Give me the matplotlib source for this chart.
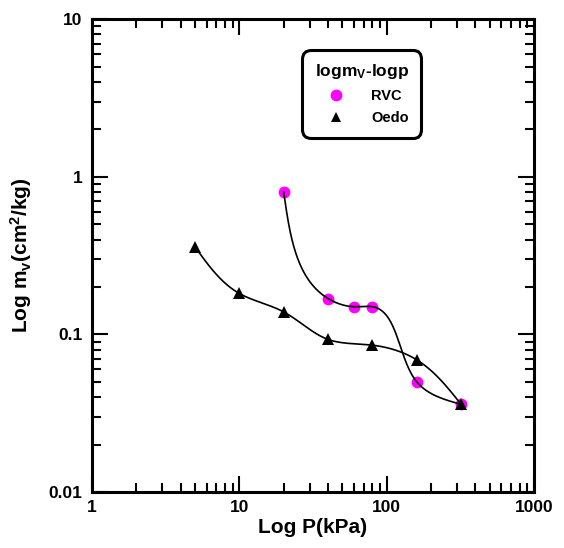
import numpy as np
import matplotlib
matplotlib.use('Agg')
import matplotlib.pyplot as plt
from matplotlib.lines import Line2D
from matplotlib.ticker import FixedLocator, LogLocator, NullFormatter

plt.rcParams['font.family'] = ['Liberation Sans', 'DejaVu Sans']
plt.rcParams['font.weight'] = 'bold'
plt.rcParams['mathtext.fontset'] = 'custom'
plt.rcParams['mathtext.rm'] = 'Liberation Sans:bold'
plt.rcParams['mathtext.it'] = 'Liberation Sans:bold'
plt.rcParams['mathtext.bf'] = 'Liberation Sans:bold'
plt.rcParams['mathtext.default'] = 'rm'

# datos
p_rvc = [20, 40, 60, 80, 160, 320]
mv_rvc = [0.80, 0.169, 0.150, 0.150, 0.050, 0.036]
p_oedo = [5, 10, 20, 40, 80, 160, 320]
mv_oedo = [0.36, 0.182, 0.139, 0.093, 0.0855, 0.069, 0.036]

x_ticks = [1, 10, 100, 1000]
y_ticks = [0.01, 0.1, 1, 10]


# spline cubico natural 1D
def natural_coeffs(x, y):
    k = len(x)
    h = np.diff(x)
    A = np.zeros((k, k))
    b = np.zeros(k)
    A[0, 0] = 1
    A[-1, -1] = 1
    for i in range(1, k - 1):
        A[i, i - 1] = h[i - 1]
        A[i, i] = 2 * (h[i - 1] + h[i])
        A[i, i + 1] = h[i]
        b[i] = 3 * ((y[i + 1] - y[i]) / h[i] - (y[i] - y[i - 1]) / h[i - 1])
    return np.linalg.solve(A, b)


def eval_spline(x, y, c, xs):
    h = np.diff(x)
    k = len(x)
    out = np.empty_like(xs)
    for j, xv in enumerate(xs):
        i = min(max(np.searchsorted(x, xv, side='right') - 1, 0), k - 2)
        bi = (y[i + 1] - y[i]) / h[i] - h[i] * (2 * c[i] + c[i + 1]) / 3
        di = (c[i + 1] - c[i]) / (3 * h[i])
        t = xv - x[i]
        out[j] = y[i] + bi * t + c[i] * t ** 2 + di * t ** 3
    return out


# curva parametrica (longitud de cuerda) en espacio log-log escalado a pantalla
def smooth_curve(px, py, n=400):
    u = np.log10(px) * 147.3
    v = np.log10(py) * 157.7
    t = np.concatenate([[0], np.cumsum(np.hypot(np.diff(u), np.diff(v)))])
    ts = np.linspace(0, t[-1], n)
    us = eval_spline(t, u, natural_coeffs(t, u), ts)
    vs = eval_spline(t, v, natural_coeffs(t, v), ts)
    return 10 ** (us / 147.3), 10 ** (vs / 157.7)


fig = plt.figure(figsize=(5.64, 5.48), dpi=100)
ax = fig.add_axes([0.163, 0.102, 0.784, 0.863])

ax.set_xscale('log')
ax.set_yscale('log')
ax.set_xlim(1, 1000)
ax.set_ylim(0.01, 10)

# marcadores
ax.plot(p_rvc, mv_rvc, 'o', color='magenta', markersize=8.5, markeredgewidth=0, zorder=2)
ax.plot(p_oedo, mv_oedo, '^', color='black', markersize=9, markeredgewidth=0, zorder=2)

# curvas suaves
for px, py in [(p_rvc, mv_rvc), (p_oedo, mv_oedo)]:
    cx, cy = smooth_curve(px, py)
    ax.plot(cx, cy, color='black', linewidth=1.2, zorder=3)

# ejes y ticks
for s in ax.spines.values():
    s.set_linewidth(2.2)
ax.xaxis.set_major_locator(FixedLocator(x_ticks))
ax.yaxis.set_major_locator(FixedLocator(y_ticks))
ax.xaxis.set_minor_locator(LogLocator(base=10, subs=np.arange(2, 10)))
ax.yaxis.set_minor_locator(LogLocator(base=10, subs=np.arange(2, 10)))
ax.xaxis.set_minor_formatter(NullFormatter())
ax.yaxis.set_minor_formatter(NullFormatter())
ax.set_xticklabels([f'{v:g}' for v in x_ticks])
ax.set_yticklabels([f'{v:g}' for v in y_ticks])
ax.tick_params(which='both', direction='in', top=True, right=True, width=1.5)
ax.tick_params(which='major', length=11.5, labelsize=12.5, pad=6)
ax.tick_params(which='minor', length=6.5)
ax.tick_params(axis='y', which='major', pad=7)

ax.set_xlabel('Log P(kPa)', fontsize=15, fontweight='bold', labelpad=2)
ax.set_ylabel(r'Log m$_\mathrm{v}$(cm$^\mathrm{2}$/kg)', fontsize=15, fontweight='bold', labelpad=10)

# leyenda
handles = [
    Line2D([], [], marker='o', linestyle='none', color='magenta', markersize=8.5, markeredgewidth=0),
    Line2D([], [], marker='^', linestyle='none', color='black', markersize=7.5, markeredgewidth=0),
]
leg = ax.legend(handles, ['RVC', 'Oedo'], loc='upper left', bbox_to_anchor=(0.475, 0.935),
                title=r'logm$_\mathrm{V}$-logp', title_fontproperties={'size': 12.5, 'weight': 'bold'},
                prop={'size': 10.5, 'weight': 'bold'}, fancybox=True, framealpha=1,
                edgecolor='black', handletextpad=0.9, borderpad=0.85, labelspacing=0.55,
                handlelength=3.0, borderaxespad=0, alignment='center')
leg.get_frame().set_linewidth(2.2)
leg.get_frame().set_boxstyle('round', pad=0, rounding_size=0.6)
for t in leg.get_texts():
    t.set_ha('left')

fig.savefig('out.png', dpi=100)
